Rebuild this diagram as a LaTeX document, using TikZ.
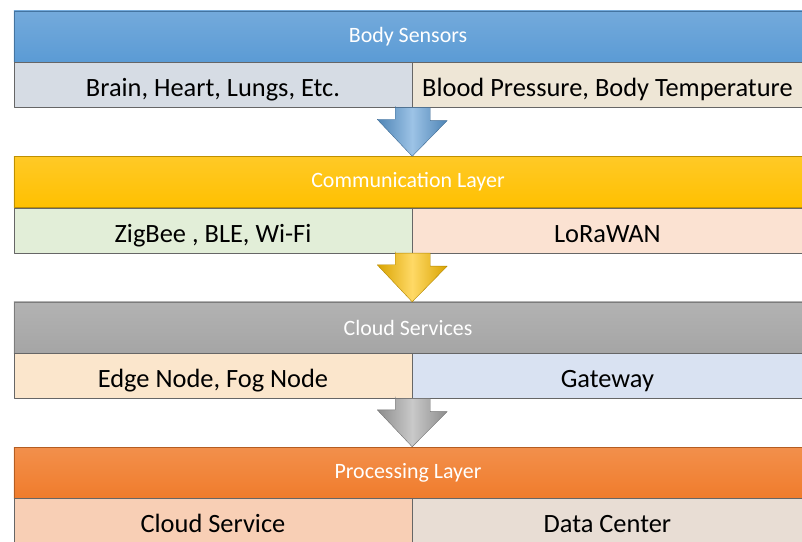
\documentclass[tikz,border=0pt]{standalone}
\usepackage{fontspec}
\setmainfont{Carlito}
\usetikzlibrary{positioning,calc}
\definecolor{bandblue}{HTML}{5B9BD5}
\definecolor{bandgold}{HTML}{FFC000}
\definecolor{bandgray}{HTML}{A5A5A5}
\definecolor{bandorange}{HTML}{F07C2C}
\definecolor{partslate}{HTML}{D6DCE4}
\definecolor{partsand}{HTML}{EEE6D6}
\definecolor{partgreen}{HTML}{E2EED8}
\definecolor{partpeach}{HTML}{FBE2D2}
\definecolor{partcream}{HTML}{FBE6CC}
\definecolor{partsky}{HTML}{D9E2F2}
\definecolor{partsalmon}{HTML}{F8CFB5}
\definecolor{partstone}{HTML}{E8DDD4}
\begin{document}
\begin{tikzpicture}[x=1bp,y=-1bp,line join=round,
	band/.style={minimum width=788bp,minimum height=51bp,inner sep=0pt,text=white,
		font=\fontsize{22}{26}\selectfont,draw=#1!75!black,top color=#1!85!white,bottom color=#1},
	part/.style={minimum height=45bp,inner sep=0pt,font=\fontsize{26.5}{30}\selectfont,
		text height=29bp,text depth=5bp,draw=black!60,fill=#1}]
	\useasboundingbox (0,0) rectangle (802,542);
	% layer bands
	\node[band=bandblue] (body) at (408,36.5) {Body Sensors};
	\node[band=bandgold] (comm) at (408,182) {Communication Layer};
	\node[band=bandgray] (cloud) at (408,327.5) {Cloud Services};
	\node[band=bandorange] (proc) at (408,472.5) {Processing Layer};
	% parts below each band
	\node[part=partslate,minimum width=398bp,anchor=north west] (brain) at (body.south west) {Brain, Heart, Lungs, Etc.};
	\node[part=partsand,minimum width=390bp,right=0pt of brain] (blood) {Blood Pressure, Body Temperature};
	\node[part=partgreen,minimum width=398bp,anchor=north west] (zigbee) at (comm.south west) {ZigBee , BLE, Wi-Fi};
	\node[part=partpeach,minimum width=390bp,right=0pt of zigbee] (lora) {LoRaWAN};
	\node[part=partcream,minimum width=398bp,anchor=north west] (edge) at (cloud.south west) {Edge Node, Fog Node};
	\node[part=partsky,minimum width=390bp,right=0pt of edge] (gateway) {Gateway};
	\node[part=partsalmon,minimum width=398bp,anchor=north west] (cloudsrv) at (proc.south west) {Cloud Service};
	\node[part=partstone,minimum width=390bp,right=0pt of cloudsrv] (datac) {Data Center};
	% block arrows
	\foreach \from/\to/\col in {brain/comm/bandblue,zigbee/cloud/bandgold,edge/proc/bandgray}{
		\coordinate (tip) at (\from.south east |- \to.north);
		\shade[left color=\col!85!black,right color=\col!85!black,middle color=\col!60!white,draw=\col!70!black,line width=.4pt]
			($(\from.south east)+(-17,0)$) -- ++(35,0) -- ++(0,13) -- ++(17,0) -- (tip)
			-- ++(-35,-37) -- ++(18,0) -- ++(0,-13) -- cycle;
	}
\end{tikzpicture}
\end{document}
